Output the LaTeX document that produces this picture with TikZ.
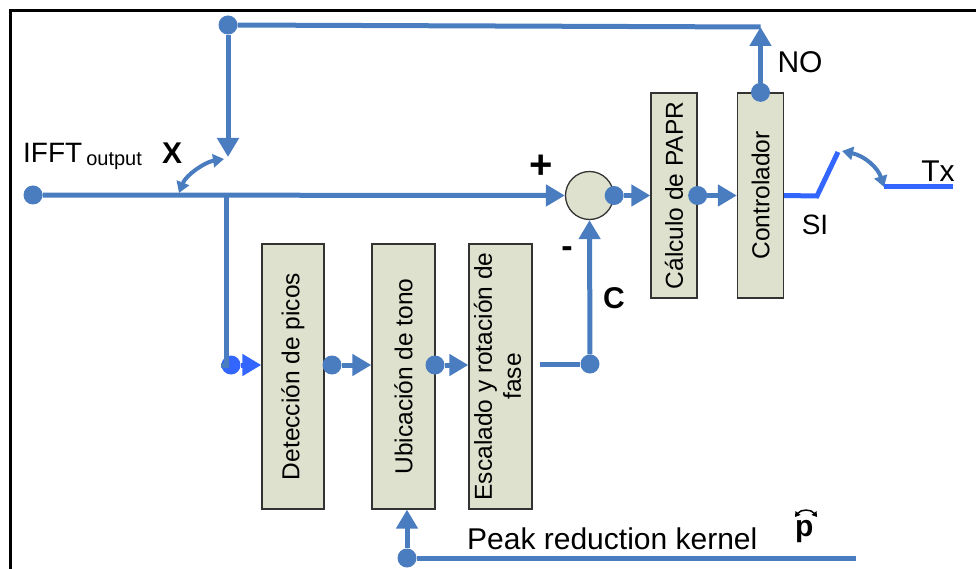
\documentclass[tikz,border=0pt]{standalone}
\usepackage{fontspec}
\setmainfont{Liberation Sans}
\usetikzlibrary{arrows.meta}
\definecolor{lblue}{RGB}{74,125,192}
\definecolor{bblue}{RGB}{51,102,255}
\definecolor{boxfill}{RGB}{221,225,205}
\begin{document}
\begin{tikzpicture}[x=1pt,y=-1pt,
 wire/.style={draw=lblue, line width=5pt},
 arr/.style={wire, -{Triangle[length=19pt,width=21pt]}},
 sarr/.style={draw=lblue, line width=4pt, {Triangle[length=11pt,width=13pt]}-{Triangle[length=11pt,width=13pt]}},
 dotn/.style={circle, fill=lblue, inner sep=0pt, minimum size=19pt},
 blockbox/.style={draw=black!80, line width=1.3pt, fill=boxfill, inner sep=0pt, font=\fontsize{24.5}{29}\selectfont},
 lbl/.style={font=\fontsize{30}{34}\selectfont, inner sep=0pt},
 blbl/.style={font=\bfseries\fontsize{30}{34}\selectfont, inner sep=0pt},
]
\useasboundingbox (0,0) rectangle (976,569);
\draw[line width=2.7pt] (10.3,569) |- (976,10.5);

% blocks
\node[blockbox, minimum width=62pt, minimum height=265pt] (det) at (293,376.5) {\rotatebox{90}{Detección de picos}};
\node[blockbox, minimum width=63pt, minimum height=265pt] (ubi) at (403.5,376.5) {\rotatebox{90}{Ubicación de tono}};
\node[blockbox, minimum width=63pt, minimum height=265pt] (esc) at (500.5,376.5) {\rotatebox{90}{\begin{tabular}{@{}c@{}}Escalado y rotación de\\fase\end{tabular}}};
\node[blockbox, minimum width=46pt, minimum height=205pt] (calc) at (674,195.5) {\rotatebox{90}{Cálculo de PAPR}};
\node[blockbox, minimum width=46pt, minimum height=205pt] (ctrl) at (760.5,195.5) {\rotatebox{90}{Controlador}};
\node[circle, draw=black!80, line width=1.3pt, fill=boxfill, minimum size=48pt, inner sep=0pt] (sum) at (589.5,195.5) {};

% dots and points
\node[dotn] (in) at (33,195) {};
\coordinate (corner) at (760.5,27);
\node[dotn] (topdot) at (228,25) {};
\coordinate (swtip) at (228,157);
\coordinate (swend) at (179,193);
\coordinate (br) at (226,195);
\node[dotn, fill=bblue] (detin) at (231,365) {};
\node[dotn] (detout) at (332,365) {};
\node[dotn] (ubiout) at (435,365) {};
\coordinate (escout) at (540,364);
\node[dotn] (cdot) at (590,364) {};
\node[dotn] (kdot) at (407,558) {};
\coordinate (kend) at (856,558);
\coordinate (sw2a) at (817,196);
\coordinate (sw2b) at (838,152);
\coordinate (sw2c) at (842,151);
\coordinate (sw2d) at (884,187);
\coordinate (txend) at (953,187);

% connectors
\draw[arr] (in) -- (sum.west);
\node[dotn] (sumout) at (sum.east) {};
\node[dotn] (calcout) at (calc.east) {};
\node[dotn] (nodot) at (ctrl.north) {};
\draw[arr] (sumout) -- (calc.west);
\draw[arr] (calcout) -- (ctrl.west);
\draw[arr] (nodot) -- (corner);
\draw[wire] (corner) -- (topdot);
\draw[arr] (topdot) -- (swtip);
\draw[sarr] (224,159) .. controls (205,162) and (186,175) .. (swend);
\draw[wire] (br) -- (br |- detin) -- (detin);
\draw[arr, draw=bblue] (detin) -- (detin -| det.west);
\draw[arr] (detout) -- (detout -| ubi.west);
\draw[arr] (ubiout) -- (ubiout -| esc.west);
\draw[wire] (escout) -- (cdot);
\draw[arr] (cdot) -- (sum.south);
\draw[arr] (kdot) -- (kdot |- ubi.south);
\draw[wire] (kdot) -- (kend);
\draw[wire, draw=bblue] (ctrl.east) -- (sw2a) -- (sw2b);
\draw[sarr] (sw2c) .. controls (865,156) and (878,168) .. (sw2d);
\draw[wire, draw=bblue] (sw2d) -- (txend);

% labels
\node[anchor=base west, inner sep=0pt, font=\fontsize{28}{30}\selectfont] (iffl) at (23,163) {IFFT\hspace{4pt}\raisebox{-3pt}{\fontsize{20}{22}\selectfont output}};
\node[blbl, anchor=base west] (xl) at (162,164) {X};
\node[font=\bfseries\fontsize{40}{42}\selectfont, inner sep=0pt] (plus) at (541,167) {+};
\node[font=\bfseries\fontsize{34}{36}\selectfont, inner sep=0pt] (minus) at (567,252) {-};
\node[blbl] (cl) at (614,298) {C};
\node[lbl] (nol) at (800,62) {NO};
\node[lbl, font=\fontsize{28}{30}\selectfont] (sil) at (815,225) {SI};
\node[lbl] (txl) at (938,171) {Tx};
\node[lbl, anchor=base west] (peak) at (467,549) {Peak reduction kernel};
\node[blbl, anchor=base west] (pl) at (795,536) {p};
\draw[line width=1.5pt, {Triangle[length=5pt,width=6pt]}-{Triangle[length=5pt,width=6pt]}] (795,517) .. controls (801,509) and (811,509) .. (817,517);
\end{tikzpicture}
\end{document}
